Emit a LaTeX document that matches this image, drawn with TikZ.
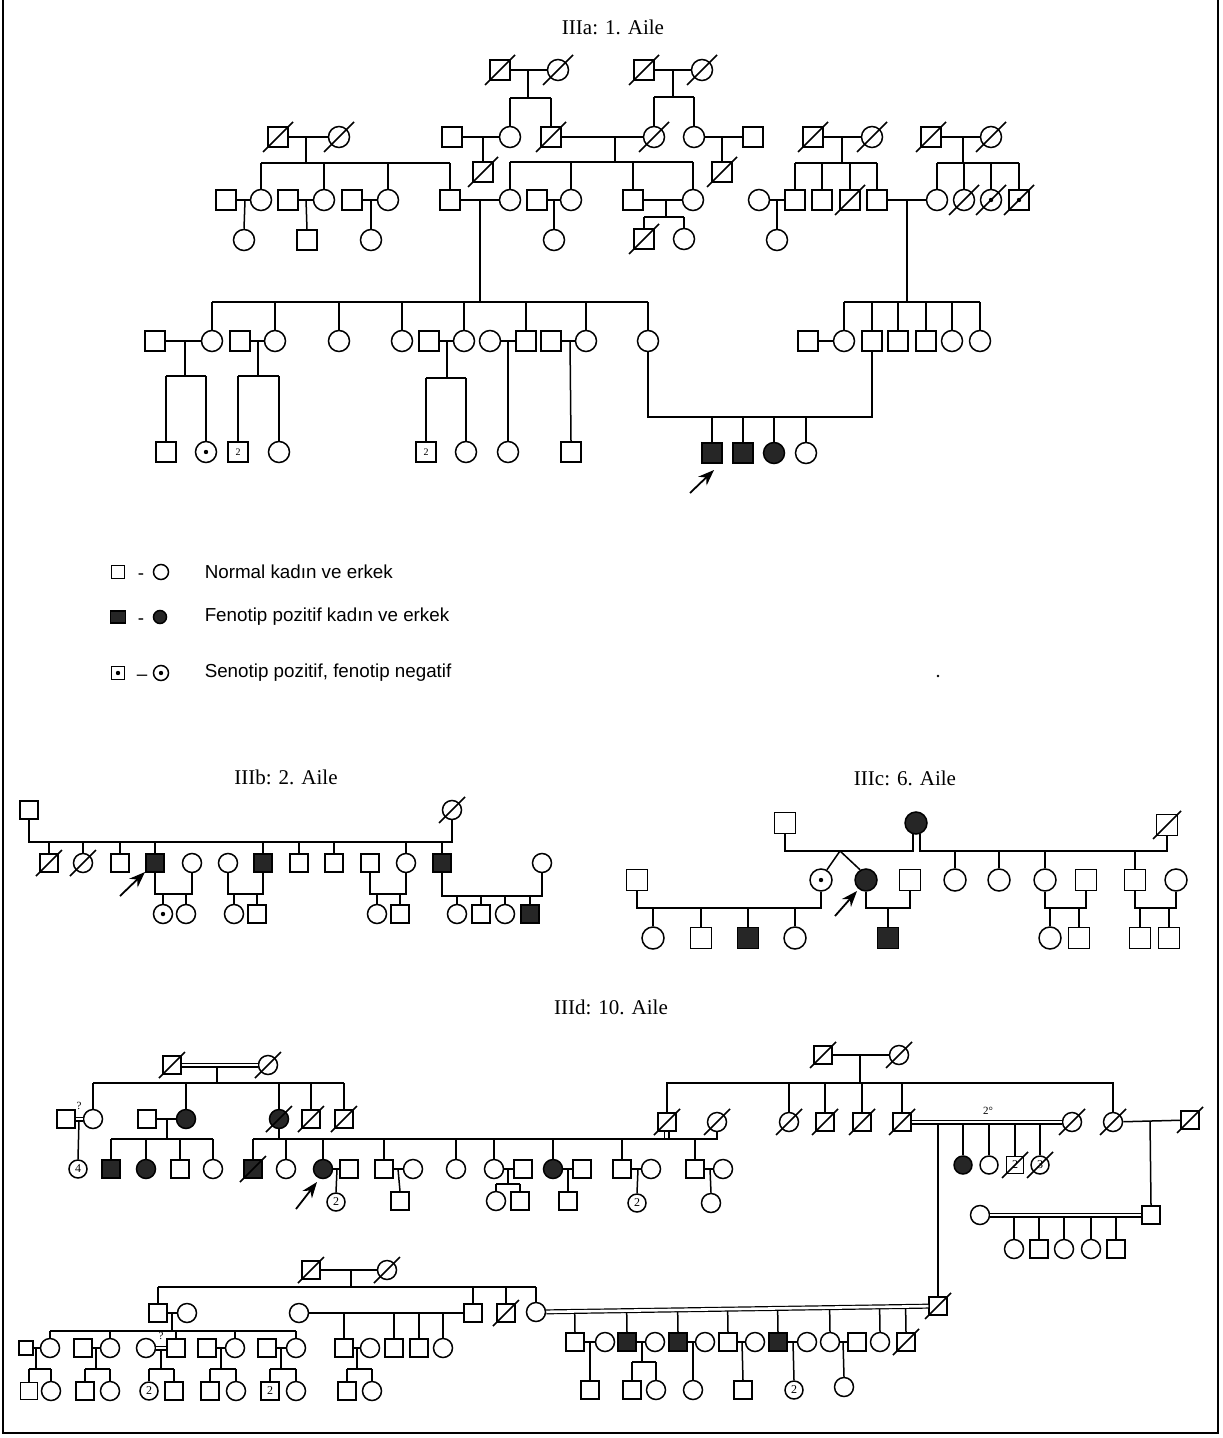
\documentclass[tikz,border=0pt]{standalone}
\usepackage{fontspec}
\setmainfont{Liberation Serif}
\newfontfamily\legfont{Liberation Sans}
\usetikzlibrary{arrows.meta,calc}
% dead slash through a node
\newcommand\slashnode[2][14]{\draw ([shift={(-#1,#1)}]#2.center) -- ([shift={(#1,-#1)}]#2.center);}
% carrier dot
\newcommand\cdt[1]{\fill (#1.center) circle (1.1pt);}
% junction (x,y) -> sibship line at Y -> children
\newcommand\sibfam[5]{%
  \draw (#1) -- (#1 |- 0,#2);
  \draw (#3 |- 0,#2) -- (#4 |- 0,#2);
  \foreach \k in {#5} {\draw (\k.north) -- (\k |- 0,#2);}}
% couple joined from below at Y, with children
\newcommand\cpl[4]{%
  \draw (#1.south) -- (#1 |- 0,#3) -- (#2 |- 0,#3) -- (#2.south);
  \foreach \k in {#4} {\draw (\k.north) -- (\k |- 0,#3);}}
\begin{document}
\begin{tikzpicture}[x=0.5pt,y=-0.5pt,line width=0.75pt,
  M/.style={draw,rectangle,minimum size={#1*0.5pt},inner sep=0pt,font=\fontsize{6}{6}\selectfont},
  M/.default=20,
  F/.style={draw,circle,minimum size={#1*0.5pt},inner sep=0pt,font=\fontsize{6}{6}\selectfont},
  F/.default=21,
  A/.style={fill=black!85},
  dbl/.style={double,double distance=1.3pt,line width=0.6pt},
  arr/.style={-{Stealth[length=8pt,width=6pt]},line width=0.9pt},
  ttl/.style={font=\fontsize{10.5}{12}\selectfont},
  leg/.style={font=\legfont\fontsize{9.4}{11}\selectfont,anchor=west,inner sep=0pt},
  sm/.style={font=\fontsize{5.5}{6}\selectfont,inner sep=0pt}]
\useasboundingbox (0,0) rectangle (1222,1438);
\draw[line width=1pt] (3,0) -- (3,1433) -- (1218,1433) -- (1218,0);

%================ IIIa =================
\node[ttl] (ta) at (613,27) {IIIa: 1. Aile};
\node[M] (a1) at (500,70) {};
\node[F] (a2) at (558,70) {};
\node[M] (a3) at (644,70) {};
\node[F] (a4) at (702,70) {};
\node[M] (a5) at (278,137) {};
\node[F] (a6) at (339,137) {};
\node[M] (a7) at (452,137) {};
\node[F] (a8) at (510,137) {};
\node[M] (a9) at (551,137) {};
\node[F] (a10) at (654,137) {};
\node[F] (a11) at (694,137) {};
\node[M] (a12) at (753,137) {};
\node[M] (a13) at (813,137) {};
\node[F] (a14) at (872,137) {};
\node[M] (a15) at (931,137) {};
\node[F] (a16) at (991,137) {};
\node[M] (a17) at (483,172) {};
\node[M] (a18) at (722,172) {};
\node[M] (a19) at (226,200) {};
\node[F] (a20) at (261,200) {};
\node[M] (a21) at (288,200) {};
\node[F] (a22) at (324,200) {};
\node[M] (a23) at (352,200) {};
\node[F] (a24) at (388,200) {};
\node[M] (a25) at (450,200) {};
\node[F] (a26) at (510,200) {};
\node[M] (a27) at (537,200) {};
\node[F] (a28) at (571,200) {};
\node[M] (a29) at (633,200) {};
\node[F] (a30) at (693,200) {};
\node[F] (a31) at (759,200) {};
\node[M] (a32) at (795,200) {};
\node[M] (a33) at (822,200) {};
\node[M] (a34) at (850,200) {};
\node[M] (a35) at (877,200) {};
\node[F] (a36) at (937,200) {};
\node[F] (a37) at (964,200) {};
\node[F] (a38) at (991,200) {};
\node[M] (a39) at (1019,200) {};
\node[F] (a40) at (244,240) {};
\node[M] (a41) at (307,240) {};
\node[F] (a42) at (371,240) {};
\node[F] (a43) at (554,240) {};
\node[M] (a44) at (644,239) {};
\node[F] (a45) at (684,239) {};
\node[F] (a46) at (777,240) {};
% generation 3
\node[M] (a47) at (155,341) {};
\node[F] (a48) at (212,341) {};
\node[M] (a49) at (240,341) {};
\node[F] (a50) at (275,341) {};
\node[F] (a51) at (339,341) {};
\node[F] (a52) at (402,341) {};
\node[M] (a53) at (429,341) {};
\node[F] (a54) at (464,341) {};
\node[F] (a55) at (490,341) {};
\node[M] (a56) at (526,341) {};
\node[M] (a57) at (551,341) {};
\node[F] (a58) at (586,341) {};
\node[F] (a59) at (648,341) {};
\node[M] (a60) at (808,341) {};
\node[F] (a61) at (844,341) {};
\node[M] (a62) at (872,341) {};
\node[M] (a63) at (898,341) {};
\node[M] (a64) at (926,341) {};
\node[F] (a65) at (952,341) {};
\node[F] (a66) at (980,341) {};
% generation 4
\node[M] (a67) at (166,452) {};
\node[F] (a68) at (206,452) {};
\node[M,font=\fontsize{5}{5}\selectfont] (a69) at (238,452) {2};
\node[F] (a70) at (279,452) {};
\node[M,font=\fontsize{5}{5}\selectfont] (a71) at (426,452) {2};
\node[F] (a72) at (466,452) {};
\node[F] (a73) at (508,452) {};
\node[M] (a74) at (571,452) {};
\node[M,A] (a75) at (712,453) {};
\node[M,A] (a76) at (743,453) {};
\node[F,A] (a77) at (774,453) {};
\node[F] (a78) at (806,453) {};

\draw (a1) -- (a2); \sibfam{528,70}{98}{a8}{a9}{a8,a9}
\draw (a3) -- (a4); \sibfam{673,70}{97}{a10}{a11}{a10,a11}
\draw (a5) -- (a6); \sibfam{306,137}{163}{a20}{a25}{a20,a22,a24,a25}
\draw (a7) -- (a8); \draw (483,137) -- (a17.north);
\draw (a9) -- (a10); \sibfam{615,137}{162}{a26}{a30}{a26,a28,a29,a30}
\draw (a11) -- (a12); \draw (722,137) -- (a18.north);
\draw (a13) -- (a14); \sibfam{842,137}{163}{a32}{a35}{a32,a33,a34,a35}
\draw (a15) -- (a16); \sibfam{963,137}{163}{a36}{a39}{a36,a37,a38,a39}
\draw (a19) -- (a20); \draw (245,200) -- (a40.north);
\draw (a21) -- (a22); \draw (306,200) -- (a41.north);
\draw (a23) -- (a24); \draw (371,200) -- (a42.north);
\draw (a25) -- (a26); \sibfam{480,200}{302}{a48}{a59}{a48,a50,a51,a52,a54,a56,a58,a59}
\draw (a27) -- (a28); \draw (554,200) -- (a43.north);
\draw (a29) -- (a30); \sibfam{666,200}{217}{a44}{a45}{a44,a45}
\draw (a31) -- (a32); \draw (777,200) -- (a46.north);
\draw (a35) -- (a36); \sibfam{907,200}{302}{a61}{a66}{a61,a62,a63,a64,a65,a66}
\draw (a47) -- (a48); \sibfam{185,341}{376}{a67}{a68}{a67,a68}
\draw (a49) -- (a50); \sibfam{258,341}{376}{a69}{a70}{a69,a70}
\draw (a53) -- (a54); \sibfam{447,341}{378}{a71}{a72}{a71,a72}
\draw (a55) -- (a56); \draw (508,341) -- (a73.north);
\draw (a57) -- (a58); \draw (570,341) -- (a74.north);
\draw (a60) -- (a61);
\cpl{a59}{a62}{417}{a75,a76,a77,a78}
\foreach \n in {a1,a2,a3,a4,a5,a6,a9,a10,a13,a14,a15,a16,a17,a18,a34,a37,a38,a39,a44} {\slashnode[15]{\n}}
\cdt{a68} \cdt{a38} \cdt{a39}
\coordinate (arA1) at (690,493); \coordinate (arA2) at (714,470);
\draw[arr] (arA1) -- (arA2);

%================ Legend =================
\node[M=13] (l1) at (118,572) {};
\node[F=15] (l2) at (161,572) {};
\node[draw,A,minimum width=7.5pt,minimum height=6pt,inner sep=0pt] (l3) at (118,617) {};
\node[F=13,A] (l4) at (160,617) {};
\node[M=13] (l5) at (118,673) {};
\node[F=15] (l6) at (161,673) {};
\cdt{l5} \cdt{l6}
\node[font=\legfont\fontsize{9.4}{11}\selectfont] (ld1) at (141,577) {-};
\node[font=\legfont\fontsize{9.4}{11}\selectfont] (ld2) at (141,622) {-};
\node[font=\legfont\fontsize{9.4}{11}\selectfont] (ld3) at (142,678) {–};
\node[leg] (lt1) at (204,572) {Normal kadın ve erkek};
\node[leg] (lt2) at (204,617) {Fenotip pozitif kadın ve erkek};
\node[leg] (lt3) at (204,673) {Senotip pozitif, fenotip negatif};
\fill (938,676) circle (0.7pt);

%================ IIIb =================
\node[ttl] (tb) at (286,777) {IIIb: 2. Aile};
\node[M=18] (b1) at (29,810) {};
\node[F=19] (b2) at (452,810) {};
\node[M=18] (b3) at (49,863) {};
\node[F=19] (b4) at (83,863) {};
\node[M=18] (b5) at (120,863) {};
\node[M=18,A] (b6) at (155,863) {};
\node[F=19] (b7) at (192,863) {};
\node[F=19] (b8) at (228,863) {};
\node[M=18,A] (b9) at (263,863) {};
\node[M=18] (b10) at (299,863) {};
\node[M=18] (b11) at (334,863) {};
\node[M=18] (b12) at (370,863) {};
\node[F=19] (b13) at (406,863) {};
\node[M=18,A] (b14) at (442,863) {};
\node[F=19] (b15) at (542,863) {};
\node[F=19] (b16) at (163,914) {};
\node[F=19] (b17) at (186,914) {};
\node[F=19] (b18) at (234,914) {};
\node[M=18] (b19) at (257,914) {};
\node[F=19] (b20) at (377,914) {};
\node[M=18] (b21) at (400,914) {};
\node[F=19] (b22) at (457,914) {};
\node[M=18] (b23) at (481,914) {};
\node[F=19] (b24) at (505,914) {};
\node[M=18,A] (b25) at (530,914) {};
\cpl{b1}{b2}{842}{b3,b4,b5,b6,b9,b10,b11,b13,b14}
\cpl{b6}{b7}{894}{b16,b17}
\cpl{b8}{b9}{894}{b18,b19}
\cpl{b12}{b13}{894}{b20,b21}
\cpl{b14}{b15}{896}{b22,b23,b24,b25}
\foreach \n in {b2,b3,b4} {\slashnode[13]{\n}}
\cdt{b16}
\coordinate (arB1) at (120,896); \coordinate (arB2) at (145,872);
\draw[arr] (arB1) -- (arB2);

%================ IIIc =================
\node[ttl] (tc) at (905,778) {IIIc: 6. Aile};
\node[M=21] (c1) at (785,823) {};
\node[F=22,A] (c2) at (916,823) {};
\node[M=21] (c3) at (1167,825) {};
\node[F=22] (c4) at (821,880) {};
\node[F=22,A] (c5) at (866,880) {};
\node[M=21] (c6) at (637,880) {};
\node[M=21] (c7) at (910,880) {};
\node[F=22] (c8) at (955,880) {};
\node[F=22] (c9) at (999,880) {};
\node[F=22] (c10) at (1045,880) {};
\node[M=21] (c11) at (1086,880) {};
\node[M=21] (c12) at (1135,880) {};
\node[F=22] (c13) at (1176,880) {};
\node[F=22] (c14) at (653,938) {};
\node[M=21] (c15) at (701,938) {};
\node[M=21,A] (c16) at (748,938) {};
\node[F=22] (c17) at (795,938) {};
\node[M=21,A] (c18) at (888,938) {};
\node[F=22] (c19) at (1050,938) {};
\node[M=21] (c20) at (1079,938) {};
\node[M=21] (c21) at (1140,938) {};
\node[M=21] (c22) at (1169,938) {};
\coordinate (c2l) at (913,833.5); \coordinate (c2r) at (920,833.5);
\draw (c1.south) -- (c1 |- 0,851) -- (c2l |- 0,851) -- (c2l);
\draw (c2r) -- (c2r |- 0,851) -- (c3 |- 0,851) -- (c3.south);
\foreach \k in {c8,c9,c10,c12} {\draw (\k.north) -- (\k |- 0,851);}
\coordinate (tw) at (840,851);
\draw (tw) -- (c4.60); \draw (tw) -- (c5.120);
\cpl{c6}{c4}{908}{c14,c15,c16,c17}
\cpl{c5}{c7}{908}{c18}
\cpl{c10}{c11}{908}{c19,c20}
\cpl{c12}{c13}{908}{c21,c22}
\slashnode[14]{c3}
\cdt{c4}
\coordinate (arC1) at (835,916); \coordinate (arC2) at (857,891);
\draw[arr] (arC1) -- (arC2);

%================ IIId =================
\node[ttl] (td) at (611,1007) {IIId: 10. Aile};
\node[M=18] (d1) at (172,1065) {};
\node[F=19] (d2) at (268,1065) {};
\node[M=18] (d3) at (66,1119) {};
\node[F=19] (d4) at (93,1119) {};
\node[M=18] (d5) at (147,1119) {};
\node[F=19,A] (d6) at (186,1119) {};
\node[F=19,A] (d7) at (279,1119) {};
\node[M=18] (d8) at (311,1119) {};
\node[M=18] (d9) at (344,1119) {};
\node[F=18] (d10) at (78,1169) {4};
\node[M=18,A] (d11) at (111,1169) {};
\node[F=19,A] (d12) at (146,1169) {};
\node[M=18] (d13) at (180,1169) {};
\node[F=19] (d14) at (213,1169) {};
\node[M=18,A] (d15) at (253,1169) {};
\node[F=19] (d16) at (286,1169) {};
\node[F=19,A] (d17) at (323,1169) {};
\node[M=18] (d18) at (349,1169) {};
\node[M=18] (d19) at (384,1169) {};
\node[F=19] (d20) at (413,1169) {};
\node[F=19] (d21) at (456,1169) {};
\node[F=19] (d22) at (494,1169) {};
\node[M=18] (d23) at (523,1169) {};
\node[F=19,A] (d24) at (553,1169) {};
\node[M=18] (d25) at (582,1169) {};
\node[M=18] (d26) at (622,1169) {};
\node[F=19] (d27) at (651,1169) {};
\node[M=18] (d28) at (695,1169) {};
\node[F=19] (d29) at (723,1169) {};
\node[F=18] (d30) at (336,1202) {2};
\node[M=18] (d31) at (667,1122) {};
\node[F=19] (d32) at (717,1122) {};
\node[M=18] (d33) at (400,1201) {};
\node[F=19] (d34) at (496,1201) {};
\node[M=18] (d35) at (520,1201) {};
\node[M=18] (d36) at (568,1201) {};
\node[F=18] (d37) at (637,1203) {2};
\node[F=19] (d38) at (711,1203) {};
\node[M=18] (d40) at (823,1055) {};
\node[F=19] (d41) at (899,1055) {};
\node[F=19] (d42) at (789,1122) {};
\node[M=18] (d43) at (825,1122) {};
\node[M=18] (d44) at (862,1122) {};
\node[M=18] (d45) at (902,1122) {};
\node[F=19] (d46) at (1072,1122) {};
\node[F=19] (d47) at (1113,1122) {};
\node[F=18,A] (d48) at (963,1165) {};
\node[F=18] (d49) at (989,1165) {};
\node[M=17] (d50) at (1015,1165) {2};
\node[F=18] (d51) at (1040,1165) {3};
\node[M=18] (d52) at (1190,1120) {};
\node[M=18] (d53) at (1151,1215) {};
\node[F=19] (d54) at (980,1215) {};
\node[F=19] (d55) at (1014,1249) {};
\node[M=18] (d56) at (1039,1249) {};
\node[F=19] (d57) at (1064,1249) {};
\node[F=19] (d58) at (1091,1249) {};
\node[M=18] (d59) at (1116,1249) {};
\node[M=18] (d60) at (938,1306) {};
\node[M=18] (d61) at (311,1270) {};
\node[F=19] (d62) at (387,1270) {};
\node[M=18] (d63) at (158,1313) {};
\node[F=19] (d64) at (187,1313) {};
\node[F=19] (d65) at (299,1313) {};
\node[M=18] (d66) at (473,1313) {};
\node[M=18] (d67) at (506,1313) {};
\node[F=19] (d68) at (536,1312) {};
\node[M=14] (d69) at (26,1348) {};
\node[F=19] (d70) at (50,1348) {};
\node[M=18] (d71) at (83,1348) {};
\node[F=19] (d72) at (110,1348) {};
\node[F=19] (d73) at (146,1348) {};
\node[M=18] (d74) at (176,1348) {};
\node[M=18] (d75) at (207,1348) {};
\node[F=19] (d76) at (235,1348) {};
\node[M=18] (d77) at (267,1348) {};
\node[F=19] (d78) at (296,1348) {};
\node[M=18] (d79) at (344,1348) {};
\node[F=19] (d80) at (370,1348) {};
\node[M=18] (d81) at (394,1348) {};
\node[M=18] (d82) at (419,1348) {};
\node[F=19] (d83) at (443,1348) {};
\node[M=17] (d84) at (29,1391) {};
\node[F=19] (d85) at (51,1391) {};
\node[M=18] (d86) at (85,1391) {};
\node[F=19] (d87) at (110,1391) {};
\node[F=18] (d88) at (149,1391) {2};
\node[M=18] (d89) at (174,1391) {};
\node[M=18] (d90) at (210,1391) {};
\node[F=19] (d91) at (236,1391) {};
\node[M=18] (d92) at (270,1391) {2};
\node[F=19] (d93) at (296,1391) {};
\node[M=18] (d94) at (347,1391) {};
\node[F=19] (d95) at (372,1391) {};
\node[M=18] (d96) at (575,1342) {};
\node[F=19] (d97) at (605,1342) {};
\node[M=18,A] (d98) at (627,1342) {};
\node[F=19] (d99) at (655,1342) {};
\node[M=18,A] (d100) at (678,1342) {};
\node[F=19] (d101) at (705,1342) {};
\node[M=18] (d102) at (728,1342) {};
\node[F=19] (d103) at (755,1342) {};
\node[M=18,A] (d104) at (778,1342) {};
\node[F=19] (d105) at (807,1342) {};
\node[F=19] (d106) at (830,1342) {};
\node[M=18] (d107) at (857,1342) {};
\node[F=19] (d108) at (880,1342) {};
\node[M=18] (d109) at (906,1342) {};
\node[M=18] (d110) at (590,1390) {};
\node[M=18] (d111) at (632,1390) {};
\node[F=19] (d112) at (656,1390) {};
\node[F=19] (d113) at (693,1390) {};
\node[M=18] (d114) at (743,1390) {};
\node[F=18] (d115) at (794,1390) {2};
\node[F=19] (d116) at (844,1387) {};

% top-left family
\sibfam{217,1066}{1083}{d4}{d9}{d4,d6,d7,d8,d9}
\draw[dbl] (d1) -- (d2);
\draw (79,1120) -- (d10.north);
\draw[dbl] (d3) -- (d4);
\node[sm] (q1) at (79,1106) {?};
\draw (d5) -- (d6); \sibfam{167,1119}{1139}{d11}{d14}{d11,d12,d13,d14}
\draw (d7.south) -- (d7 |- 0,1139);
\draw (d15 |- 0,1139) -- (d32 |- 0,1139) -- (d32.south);
\foreach \k in {d15,d16,d17,d19,d21,d22,d24,d26,d28} {\draw (\k.north) -- (\k |- 0,1139);}
\draw ([xshift=-1.3pt]d31.south) -- ([xshift=-1.3pt]d31.south |- 0,1139);
\draw ([xshift=1.1pt]d31.south) -- ([xshift=1.1pt]d31.south |- 0,1139);
\draw (d17) -- (d18); \draw (337,1169) -- (d30.north);
\draw (d19) -- (d20); \draw (398,1169) -- (d33.north);
\draw (d22) -- (d23); \sibfam{508,1169}{1184}{d34}{d35}{d34,d35}
\draw (d24) -- (d25); \draw (568,1169) -- (d36.north);
\draw (d26) -- (d27); \draw (638,1169) -- (d37.north);
\draw (d28) -- (d29); \draw (710,1169) -- (d38.north);
\coordinate (arD1) at (296,1209); \coordinate (arD2) at (317,1182);
\draw[arr] (arD1) -- (arD2);
% top-right family
\draw (d40) -- (d41); \draw (860,1055) -- (860,1083);
\draw (d31.north) -- (d31 |- 0,1083) -- (d47 |- 0,1083) -- (d47.north);
\foreach \k in {d42,d43,d44,d45} {\draw (\k.north) -- (\k |- 0,1083);}
\foreach \k in {d48,d49,d50,d51} {\draw (\k.north) -- (\k |- 0,1122);}
\coordinate (j2g) at (938,1122);
\draw (j2g) -- (d60.north);
\draw[dbl] (d45) -- (d46);
\node[sm] (deg) at (988,1111) {2°};
\draw (d47) -- (d52); \draw (1150,1121) -- (d53.north);
\foreach \k in {d55,d56,d57,d58,d59} {\draw (\k.north) -- (\k |- 0,1215);}
\draw[dbl] (d54) -- (d53);
% bottom-left family
\draw (d61) -- (d62); \sibfam{351,1270}{1287}{d63}{d68}{d63,d66,d67,d68}
\draw (d63) -- (d64); \sibfam{172,1313}{1331}{d70}{d78}{d70,d72,d74,d76,d78}
\draw (d65) -- (d66);
\foreach \k in {d79,d81,d82,d83} {\draw (\k.north) -- (\k |- 0,1313);}
\draw (d69) -- (d70); \sibfam{36,1348}{1369}{d84}{d85}{d84,d85}
\draw (d71) -- (d72); \sibfam{96,1348}{1369}{d86}{d87}{d86,d87}
\sibfam{161,1349}{1369}{d88}{d89}{d88,d89}
\draw[dbl] (d73) -- (d74);
\node[sm] (q2) at (161,1336) {?};
\draw (d75) -- (d76); \sibfam{221,1348}{1369}{d90}{d91}{d90,d91}
\draw (d77) -- (d78); \sibfam{281,1348}{1369}{d92}{d93}{d92,d93}
\draw (d79) -- (d80); \sibfam{357,1348}{1369}{d94}{d95}{d94,d95}
% bottom-right family
\foreach \k in {d96,d98,d100,d102,d104,d106,d108,d109} {\draw (\k.north) -- ($(d68)!(\k.north)!(d60)$);}
\draw[dbl] (d68) -- (d60);
\draw (d96) -- (d97); \draw (590,1342) -- (d110.north);
\draw (d98) -- (d99); \sibfam{642,1342}{1362}{d111}{d112}{d111,d112}
\draw (d100) -- (d101); \draw (693,1342) -- (d113.north);
\draw (d102) -- (d103); \draw (742,1342) -- (d114.north);
\draw (d104) -- (d105); \draw (793,1342) -- (d115.north);
\draw (d106) -- (d107); \draw (843,1342) -- (d116.north);
\foreach \n in {d1,d2,d7,d8,d9,d15,d31,d32,d40,d41,d42,d43,d44,d45,d46,d47,d52,d50,d51,d60,d61,d62,d67,d109} {\slashnode[13]{\n}}
\end{tikzpicture}
\end{document}
